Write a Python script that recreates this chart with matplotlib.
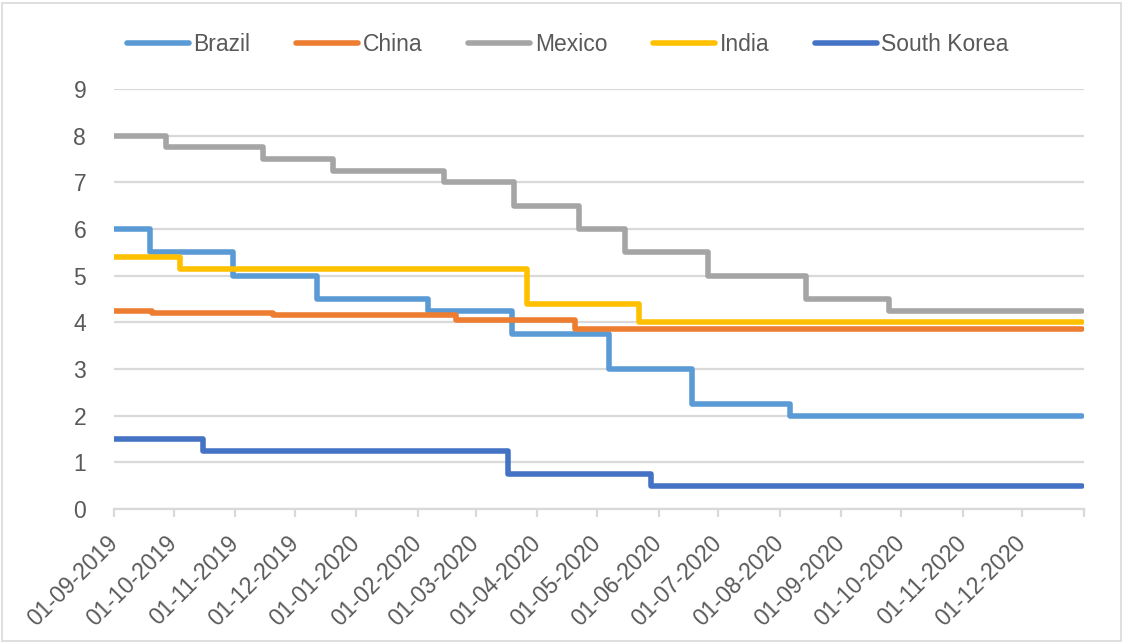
import matplotlib
matplotlib.use("Agg")
import matplotlib.pyplot as plt
from datetime import date

plt.rcParams['font.family'] = ['Liberation Sans', 'DejaVu Sans']

end_date = date(2020, 12, 31)

# policy rate change dates and new rate levels
brazil_dates = [date(2019, 9, 1), date(2019, 9, 19), date(2019, 10, 31), date(2019, 12, 12),
                date(2020, 2, 6), date(2020, 3, 19), date(2020, 5, 7), date(2020, 6, 18),
                date(2020, 8, 6)]
brazil_rates = [6.0, 5.5, 5.0, 4.5, 4.25, 3.75, 3.0, 2.25, 2.0]

china_dates = [date(2019, 9, 1), date(2019, 9, 20), date(2019, 11, 20), date(2020, 2, 20),
               date(2020, 4, 20)]
china_rates = [4.25, 4.20, 4.15, 4.05, 3.85]

mexico_dates = [date(2019, 9, 1), date(2019, 9, 27), date(2019, 11, 15), date(2019, 12, 20),
                date(2020, 2, 14), date(2020, 3, 20), date(2020, 4, 22), date(2020, 5, 15),
                date(2020, 6, 26), date(2020, 8, 14), date(2020, 9, 25)]
mexico_rates = [8.0, 7.75, 7.5, 7.25, 7.0, 6.5, 6.0, 5.5, 5.0, 4.5, 4.25]

india_dates = [date(2019, 9, 1), date(2019, 10, 4), date(2020, 3, 27), date(2020, 5, 22)]
india_rates = [5.40, 5.15, 4.40, 4.00]

korea_dates = [date(2019, 9, 1), date(2019, 10, 16), date(2020, 3, 17), date(2020, 5, 28)]
korea_rates = [1.50, 1.25, 0.75, 0.50]

series = [
    ('Brazil', brazil_dates, brazil_rates, '#5B9BD5'),
    ('China', china_dates, china_rates, '#ED7D31'),
    ('Mexico', mexico_dates, mexico_rates, '#A5A5A5'),
    ('India', india_dates, india_rates, '#FFC000'),
    ('South Korea', korea_dates, korea_rates, '#4472C4'),
]

month_ticks = [date(2019, 9 + i, 1) if 9 + i <= 12 else date(2020, i - 3, 1) for i in range(16)]
month_ticks.append(date(2021, 1, 1))
tick_labels = [d.strftime('%d-%m-%Y') for d in month_ticks[:-1]] + ['']

fig = plt.figure(figsize=(11.26, 6.42), dpi=100)
ax = fig.add_axes([0.1012, 0.2072, 0.8615, 0.6542])

for name, ds, rs, col in series:
    xs = list(ds) + [end_date]
    ys = list(rs) + [rs[-1]]
    ax.plot(xs, ys, drawstyle='steps-post', color=col, lw=4.0, label=name,
            solid_capstyle='round', solid_joinstyle='round')

ax.set_xlim(date(2019, 9, 1), date(2021, 1, 1))
ax.set_ylim(0, 9)
ax.set_yticks(range(10))
ax.yaxis.grid(True, color='#d9d9d9', lw=1.6)
ax.set_axisbelow(True)
for s in ['top', 'right', 'left']:
    ax.spines[s].set_visible(False)
ax.spines['bottom'].set_color('#d9d9d9')
ax.spines['bottom'].set_linewidth(1.6)

ax.set_xticks(month_ticks)
ax.set_xticklabels(tick_labels, rotation=45, ha='right', va='center', rotation_mode='anchor')
ax.tick_params(axis='x', length=6, width=1.6, color='#d9d9d9', labelcolor='#595959',
               labelsize=16.5, pad=16)
ax.tick_params(axis='y', length=0, labelcolor='#595959', labelsize=16.5, pad=20)

leg = ax.legend(loc='center', bbox_to_anchor=(0.468, 1.107), ncol=5, frameon=False,
                fontsize=16.5, handlelength=2.7, handletextpad=0.2, columnspacing=2.0,
                labelcolor='#595959')

fig.patches.append(plt.Rectangle((0.002, 0.002), 0.994, 0.994, transform=fig.transFigure,
                                 fill=False, edgecolor='#d9d9d9', lw=1.2))

fig.savefig('out.png', dpi=100)
